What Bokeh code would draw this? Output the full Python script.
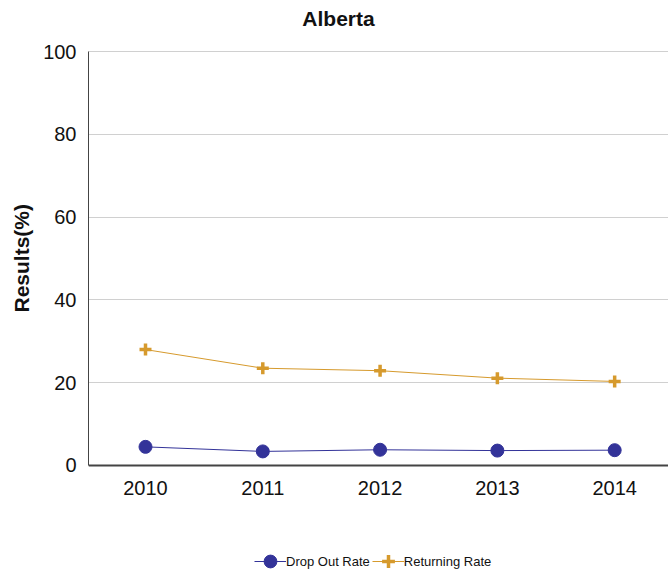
from bokeh.plotting import figure
from bokeh.models import Range1d, FixedTicker, Legend, LegendItem, Label, Title
from bokeh.embed import file_html
from bokeh.resources import INLINE

# ---- data ----
title_text = "Alberta"
y_label = "Results(%)"
years = [2010, 2011, 2012, 2013, 2014]
drop_out_rate = [4.5, 3.4, 3.8, 3.6, 3.7]
returning_rate = [28.0, 23.5, 22.9, 21.1, 20.3]
series_names = ["Drop Out Rate", "Returning Rate"]
y_ticks = [0, 20, 40, 60, 80, 100]

drop_color = "#333399"
ret_color = "#D69A2D"
FONT = "Liberation Sans"

# frame covers the whole height; axis drawn at y=0, title/legend drawn inside
p = figure(width=668, height=573, output_backend="svg", toolbar_location=None,
           x_range=Range1d(2009.514, 2014.459), y_range=Range1d(-26.09, 112.32),
           min_border_left=88, min_border_right=0, min_border_top=0,
           min_border_bottom=0)
p.outline_line_color = None
p.background_fill_color = "white"

l1 = p.line(years, drop_out_rate, line_color=drop_color, line_width=1)
s1 = p.scatter(years, drop_out_rate, marker="circle", size=13,
               fill_color=drop_color, line_color=drop_color)
l2 = p.line(years, returning_rate, line_color=ret_color, line_width=1)
s2 = p.scatter(years, returning_rate, marker="cross", size=12,
               line_color=ret_color, line_width=3.5)

# x axis fixed at y = 0
p.xaxis.fixed_location = 0
p.xaxis.ticker = FixedTicker(ticks=years)
p.xaxis.major_label_text_font = FONT
p.xaxis.major_label_text_font_size = "20px"
p.xaxis.major_label_text_color = "#111111"
p.xaxis.major_label_standoff = 16
p.xaxis.major_tick_out = 0
p.xaxis.major_tick_in = 0
p.xaxis.major_tick_line_color = None
p.xaxis.minor_tick_line_color = None
p.xaxis.axis_line_color = "#444444"
p.xaxis.axis_line_width = 2

p.yaxis.bounds = (0, 100)
p.yaxis.ticker = FixedTicker(ticks=y_ticks)
p.yaxis.major_label_text_font = FONT
p.yaxis.major_label_text_font_size = "20px"
p.yaxis.major_label_text_color = "#111111"
p.yaxis.major_label_standoff = 12
p.yaxis.major_tick_out = 0
p.yaxis.major_tick_in = 0
p.yaxis.major_tick_line_color = None
p.yaxis.minor_tick_line_color = None
p.yaxis.axis_line_color = "#444444"
p.yaxis.axis_line_width = 1

# y axis label as a side-panel title, positioned along the 0-100 span
ylab = Title(text=y_label, align="left", offset=261, vertical_align="middle",
             standoff=14, text_font=FONT, text_font_size="21px",
             text_font_style="bold", text_color="#111111")
p.add_layout(ylab, "left")

p.xgrid.grid_line_color = None
p.ygrid.grid_line_color = "#d0d0d0"
p.ygrid.grid_line_width = 1

# title
p.add_layout(Label(x=250, y=555, x_units="screen", y_units="screen",
                   text=title_text, text_font=FONT, text_font_size="21px",
                   text_font_style="bold", text_align="center",
                   text_baseline="alphabetic", text_color="#111111"))

legend = Legend(items=[LegendItem(label=series_names[0], renderers=[l1, s1]),
                       LegendItem(label=series_names[1], renderers=[l2, s2])],
                orientation="horizontal", location=(166, -4),
                glyph_width=32, glyph_height=32, label_standoff=-5, spacing=2,
                padding=0, margin=0, border_line_color=None,
                background_fill_alpha=0,
                label_text_font=FONT, label_text_font_size="13px",
                label_text_color="#111111")
p.add_layout(legend)

open("out.html", "w").write(file_html(p, INLINE))
